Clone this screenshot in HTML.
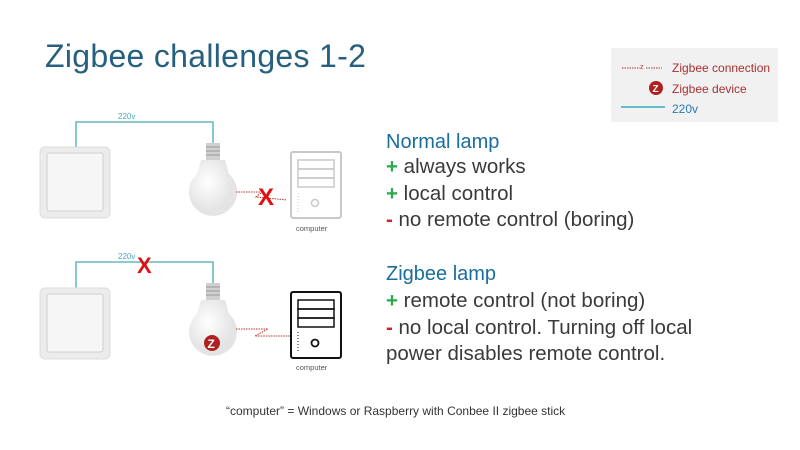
<!DOCTYPE html>
<html><head><style>
body{margin:0;width:800px;height:450px;background:#fff;overflow:hidden;font-family:"Liberation Sans",sans-serif;position:relative}
.t{position:absolute;white-space:nowrap}
.h{color:#1a6e9c;font-size:20px}
.l{color:#3a3a3a;font-size:20.5px}
.p{color:#2aa84a;font-weight:bold}
.m{color:#d42020;font-weight:bold}
</style></head><body>
<div class="t" style="left:45px;top:38px;font-size:32px;color:#26607f;letter-spacing:0.3px">Zigbee challenges 1-2</div>
<div style="position:absolute;left:611px;top:48px;width:167px;height:74px;background:#f1f1f1"></div>
<div class="t" style="left:672px;top:61px;font-size:12px;color:#a83030">Zigbee connection</div>
<div class="t" style="left:672px;top:82px;font-size:12px;color:#a83030">Zigbee device</div>
<div class="t" style="left:672px;top:102px;font-size:12px;color:#2a7ab0">220v</div>
<svg width="800" height="450" style="position:absolute;left:0;top:0">
<defs>
<radialGradient id="g" cx="0.4" cy="0.4"><stop offset="0" stop-color="#fff"/><stop offset="1" stop-color="#e4e4e4"/></radialGradient>
<g id="sw"><rect x="0" y="0" width="70" height="71" rx="5" fill="#ececec" stroke="#ddd"/><rect x="7" y="6" width="56" height="58" rx="2" fill="#f6f6f6" stroke="#cfcfcf"/></g>
<g id="bulb"><rect x="-7" y="0" width="14" height="17" fill="#d0d0d0"/><line x1="-7" y1="4" x2="7" y2="4" stroke="#999"/><line x1="-7" y1="8" x2="7" y2="8" stroke="#999"/><line x1="-7" y1="12" x2="7" y2="12" stroke="#999"/><path d="M-12 17 L12 17 L16 31 A24 24 0 1 1 -16 31 Z" fill="url(#g)"/></g>
</defs>
<line x1="622" y1="68" x2="640" y2="68" stroke="#c03030" stroke-dasharray="1.5,1"/><text x="640" y="69" font-size="7" fill="#c03030" font-family="Liberation Sans">z</text><line x1="646" y1="68" x2="662" y2="68" stroke="#c03030" stroke-dasharray="1.5,1"/>
<circle cx="656" cy="88" r="7" fill="#b02020"/><text x="652.5" y="92" font-size="10" font-weight="bold" fill="#fff" font-family="Liberation Sans">Z</text>
<line x1="621" y1="107" x2="665" y2="107" stroke="#3aacbc" stroke-width="1.5"/>
<polyline points="76,147 76,122 213,122 213,143" fill="none" stroke="#4aaab8" stroke-width="1.3"/>
<text x="118" y="119" font-size="8" fill="#4aaab8" font-family="Liberation Sans">220v</text>
<use href="#sw" x="40" y="147"/>
<use href="#bulb" x="213" y="143"/>
<path d="M236 192 L262 192 L256 197 L287 200" fill="none" stroke="#c03030" stroke-dasharray="1.5,1"/>
<text x="258" y="205" font-size="24" font-weight="bold" fill="#e01010" font-family="Liberation Sans">X</text>
<rect x="291" y="152" width="50" height="66" rx="2" fill="#fff" stroke="#c8c8c8" stroke-width="2"/>
<rect x="298" y="160" width="36" height="9" fill="none" stroke="#c8c8c8" stroke-width="1.5"/><rect x="298" y="169" width="36" height="9" fill="none" stroke="#c8c8c8" stroke-width="1.5"/><rect x="298" y="178" width="36" height="9" fill="none" stroke="#c8c8c8" stroke-width="1.5"/>
<circle cx="315" cy="203" r="3.5" fill="none" stroke="#c8c8c8" stroke-width="1.5"/>
<line x1="298" y1="193" x2="298" y2="213" stroke="#c8c8c8" stroke-dasharray="1,2"/>
<text x="296" y="231" font-size="7.5" fill="#555" font-family="Liberation Sans">computer</text>
<polyline points="76,288 76,262 213,262 213,283" fill="none" stroke="#4aaab8" stroke-width="1.3"/>
<text x="118" y="259" font-size="8" fill="#4aaab8" font-family="Liberation Sans">220v</text>
<text x="137" y="273" font-size="22" font-weight="bold" fill="#e01010" font-family="Liberation Sans">X</text>
<use href="#sw" x="40" y="288"/>
<use href="#bulb" x="213" y="283"/>
<circle cx="212" cy="343" r="8" fill="#b02020"/><text x="207.5" y="348" font-size="12" font-weight="bold" fill="#fff" font-family="Liberation Sans">Z</text>
<path d="M236 329 L268 329 L255 336 L290 336" fill="none" stroke="#c03030" stroke-dasharray="1.5,1"/>
<rect x="291" y="292" width="50" height="66" rx="2" fill="#fff" stroke="#111" stroke-width="2"/>
<rect x="298" y="300" width="36" height="9" fill="none" stroke="#111" stroke-width="1.5"/><rect x="298" y="309" width="36" height="9" fill="none" stroke="#111" stroke-width="1.5"/><rect x="298" y="318" width="36" height="9" fill="none" stroke="#111" stroke-width="1.5"/>
<circle cx="315" cy="343" r="3.5" fill="none" stroke="#111" stroke-width="1.8"/>
<line x1="298" y1="332" x2="298" y2="353" stroke="#111" stroke-dasharray="1,2"/>
<text x="296" y="370" font-size="7.5" fill="#555" font-family="Liberation Sans">computer</text>
</svg>
<div class="t h" style="left:386px;top:131px">Normal lamp</div>
<div class="t l" style="left:386px;top:155px"><span class="p">+</span> always works</div>
<div class="t l" style="left:386px;top:182px"><span class="p">+</span> local control</div>
<div class="t l" style="left:386px;top:208px"><span class="m">-</span> no remote control (boring)</div>
<div class="t h" style="left:386px;top:263px">Zigbee lamp</div>
<div class="t l" style="left:386px;top:289px"><span class="p">+</span> remote control (not boring)</div>
<div class="t l" style="left:386px;top:316px"><span class="m">-</span> no local control. Turning off local</div>
<div class="t l" style="left:386px;top:342px">power disables remote control.</div>
<div class="t" style="left:226px;top:404px;font-size:12px;color:#333">“computer” = Windows or Raspberry with Conbee II zigbee stick</div>
</body></html>
